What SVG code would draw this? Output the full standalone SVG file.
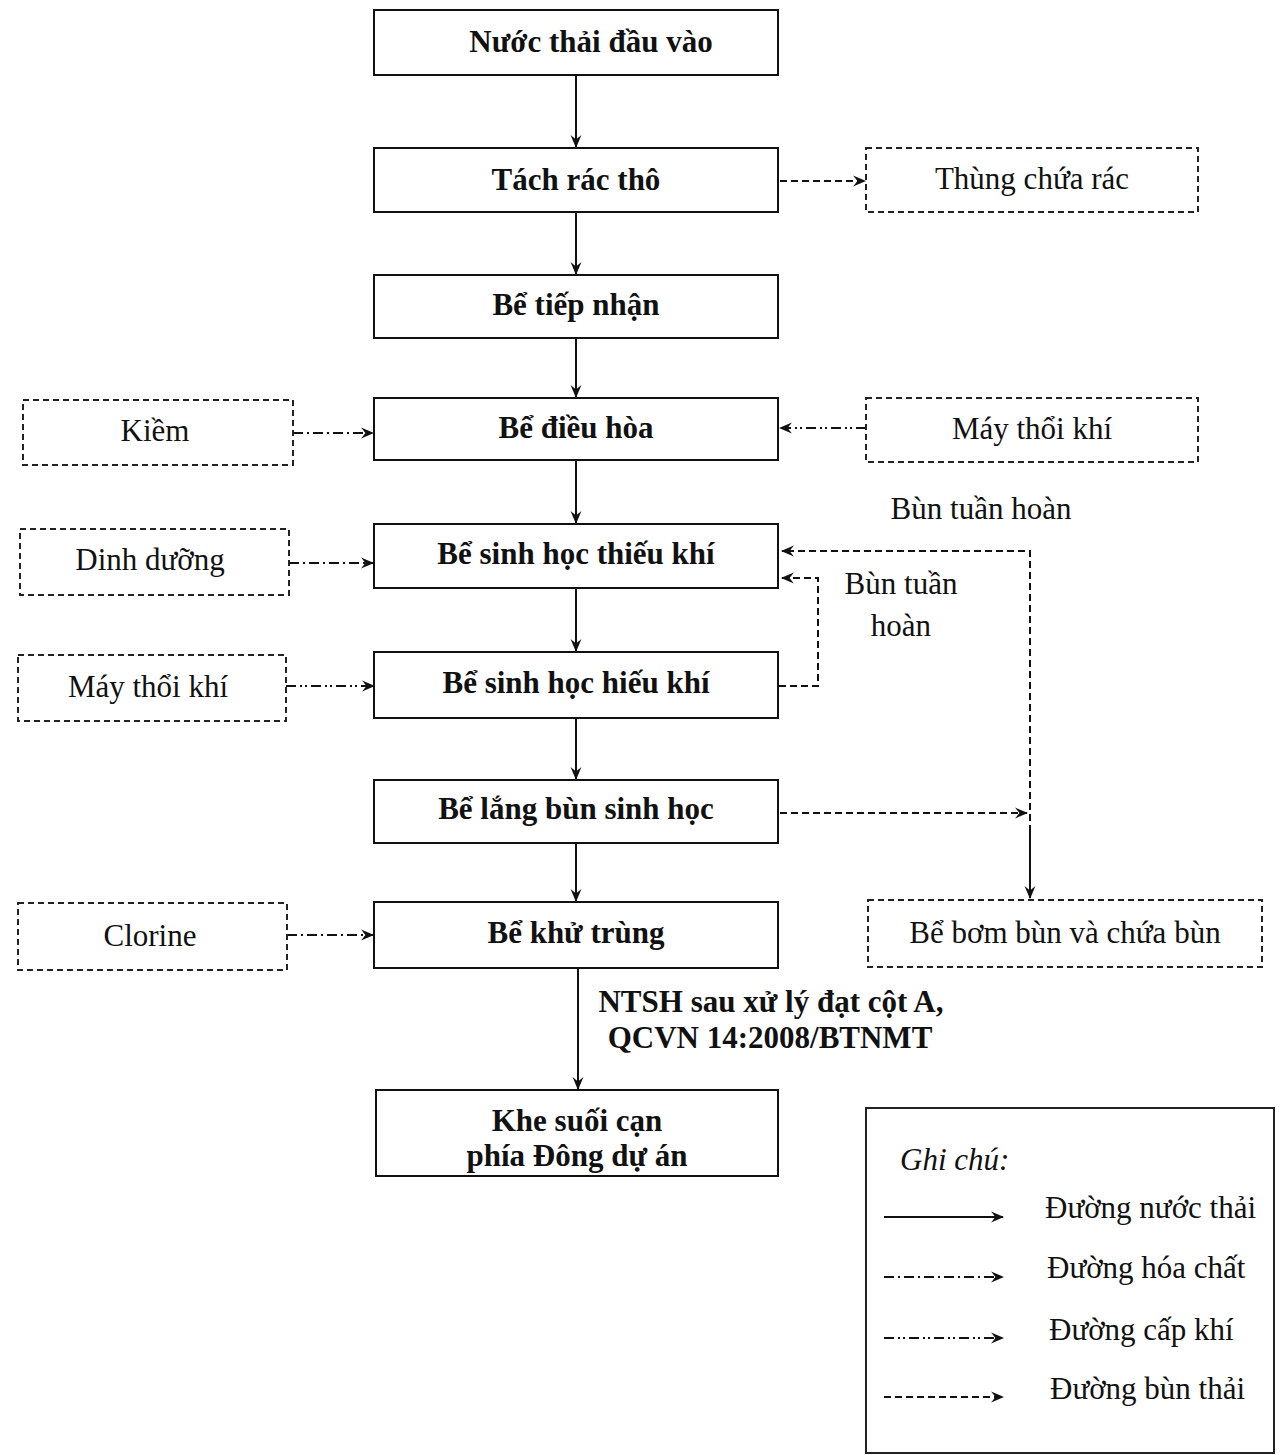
<svg xmlns="http://www.w3.org/2000/svg" width="1284" height="1455" viewBox="0 0 1284 1455">
<defs>
<marker id="ah" viewBox="0 0 12 12" refX="11" refY="6" markerWidth="13" markerHeight="13" markerUnits="userSpaceOnUse" orient="auto">
<path d="M0,1 L12,6 L0,11 L4,6 Z" fill="#111"/>
</marker>
</defs>
<style>
.main{fill:#fff;stroke:#111;stroke-width:2}
.aux{fill:#fff;stroke:#222;stroke-width:2;stroke-dasharray:6 4}
.tb{font-family:"Liberation Serif",serif;font-weight:bold;font-size:31px;fill:#111;text-anchor:middle}
.tr{font-family:"Liberation Serif",serif;font-size:31px;fill:#111;text-anchor:middle}
.lg{font-family:"Liberation Serif",serif;font-size:31px;fill:#111}
.solid{stroke:#111;stroke-width:2;fill:none}
.sludge{stroke:#111;stroke-width:2;fill:none;stroke-dasharray:7 4}
.chem{stroke:#111;stroke-width:2;fill:none;stroke-dasharray:10 4 2 4}
.air{stroke:#111;stroke-width:2;fill:none;stroke-dasharray:10 4 2 3 2 4}
</style>
<rect width="1284" height="1455" fill="#fff"/>
<g id="connectors">
<line class="solid" x1="576" y1="75" x2="576" y2="147" marker-end="url(#ah)"/>
<line class="solid" x1="576" y1="212" x2="576" y2="274" marker-end="url(#ah)"/>
<line class="solid" x1="576" y1="338" x2="576" y2="397" marker-end="url(#ah)"/>
<line class="solid" x1="576" y1="460" x2="576" y2="523" marker-end="url(#ah)"/>
<line class="solid" x1="576" y1="588" x2="576" y2="651" marker-end="url(#ah)"/>
<line class="solid" x1="576" y1="718" x2="576" y2="779" marker-end="url(#ah)"/>
<line class="solid" x1="576" y1="843" x2="576" y2="901" marker-end="url(#ah)"/>
<line class="solid" x1="578" y1="968" x2="578" y2="1089" marker-end="url(#ah)"/>
<line class="sludge" x1="780" y1="181" x2="865" y2="181" marker-end="url(#ah)"/>
<line class="chem" x1="293" y1="433" x2="373" y2="433" marker-end="url(#ah)"/>
<line class="air" x1="866" y1="428" x2="780" y2="428" marker-end="url(#ah)"/>
<line class="chem" x1="289" y1="563" x2="373" y2="563" marker-end="url(#ah)"/>
<line class="air" x1="286" y1="686" x2="374" y2="686" marker-end="url(#ah)"/>
<line class="chem" x1="287" y1="935" x2="373" y2="935" marker-end="url(#ah)"/>
<polyline class="sludge" points="779,686 818,686 818,578 782,578" marker-end="url(#ah)"/>
<polyline class="sludge" points="1030,898 1030,551 782,551" marker-end="url(#ah)"/>
<line class="sludge" x1="1030" y1="830" x2="1030" y2="898" marker-end="url(#ah)"/>
<line class="sludge" x1="780" y1="813" x2="1027" y2="813" marker-end="url(#ah)"/>
</g>
<g id="n1"><rect class="main" x="374" y="10" width="404" height="65"/><text class="tb" x="591" y="52">Nước thải đầu vào</text></g>
<g id="n2"><rect class="main" x="374" y="148" width="404" height="64"/><text class="tb" x="576" y="190">Tách rác thô</text></g>
<g id="n3"><rect class="main" x="374" y="275" width="404" height="63"/><text class="tb" x="576" y="315">Bể tiếp nhận</text></g>
<g id="n4"><rect class="main" x="374" y="398" width="404" height="62"/><text class="tb" x="576" y="438">Bể điều hòa</text></g>
<g id="n5"><rect class="main" x="374" y="524" width="404" height="64"/><text class="tb" x="576" y="564">Bể sinh học thiếu khí</text></g>
<g id="n6"><rect class="main" x="374" y="652" width="404" height="66"/><text class="tb" x="576" y="693">Bể sinh học hiếu khí</text></g>
<g id="n7"><rect class="main" x="374" y="780" width="404" height="63"/><text class="tb" x="576" y="819">Bể lắng bùn sinh học</text></g>
<g id="n8"><rect class="main" x="374" y="902" width="404" height="66"/><text class="tb" x="576" y="943">Bể khử trùng</text></g>
<g id="n9"><rect class="main" x="376" y="1090" width="402" height="86"/><text class="tb" x="577" y="1131">Khe suối cạn</text><text class="tb" x="577" y="1166">phía Đông dự án</text></g>
<g id="a1"><rect class="aux" x="866" y="148" width="332" height="64"/><text class="tr" x="1032" y="189">Thùng chứa rác</text></g>
<g id="a2"><rect class="aux" x="23" y="400" width="270" height="65"/><text class="tr" x="155" y="441">Kiềm</text></g>
<g id="a3"><rect class="aux" x="866" y="398" width="332" height="64"/><text class="tr" x="1032" y="439">Máy thổi khí</text></g>
<g id="a4"><rect class="aux" x="20" y="529" width="269" height="66"/><text class="tr" x="150" y="570">Dinh dưỡng</text></g>
<g id="a5"><rect class="aux" x="18" y="655" width="268" height="66"/><text class="tr" x="148" y="697">Máy thổi khí</text></g>
<g id="a6"><rect class="aux" x="18" y="903" width="269" height="67"/><text class="tr" x="150" y="946">Clorine</text></g>
<g id="a7"><rect class="aux" x="868" y="900" width="394" height="67"/><text class="tr" x="1065" y="943">Bể bơm bùn và chứa bùn</text></g>
<g id="labels">
<text class="tr" x="981" y="519">Bùn tuần hoàn</text>
<text class="tr" x="901" y="594">Bùn tuần</text>
<text class="tr" x="901" y="636">hoàn</text>
<text class="tb" x="771" y="1012">NTSH sau xử lý đạt cột A,</text>
<text class="tb" x="770" y="1048">QCVN 14:2008/BTNMT</text>
</g>
<g id="legend">
<rect x="866" y="1108" width="408" height="345" fill="#fff" stroke="#222" stroke-width="2"/>
<text x="900" y="1170" font-family="Liberation Serif,serif" font-style="italic" font-size="31" fill="#111">Ghi chú:</text>
<line class="solid" x1="884" y1="1217" x2="1003" y2="1217" marker-end="url(#ah)"/>
<text class="lg" x="1045" y="1218">Đường nước thải</text>
<line class="chem" x1="884" y1="1277" x2="1003" y2="1277" marker-end="url(#ah)"/>
<text class="lg" x="1047" y="1278">Đường hóa chất</text>
<line class="air" x1="884" y1="1338" x2="1003" y2="1338" marker-end="url(#ah)"/>
<text class="lg" x="1049" y="1340">Đường cấp khí</text>
<line class="sludge" x1="884" y1="1397" x2="1003" y2="1397" marker-end="url(#ah)"/>
<text class="lg" x="1050" y="1399">Đường bùn thải</text>
</g>
</svg>
